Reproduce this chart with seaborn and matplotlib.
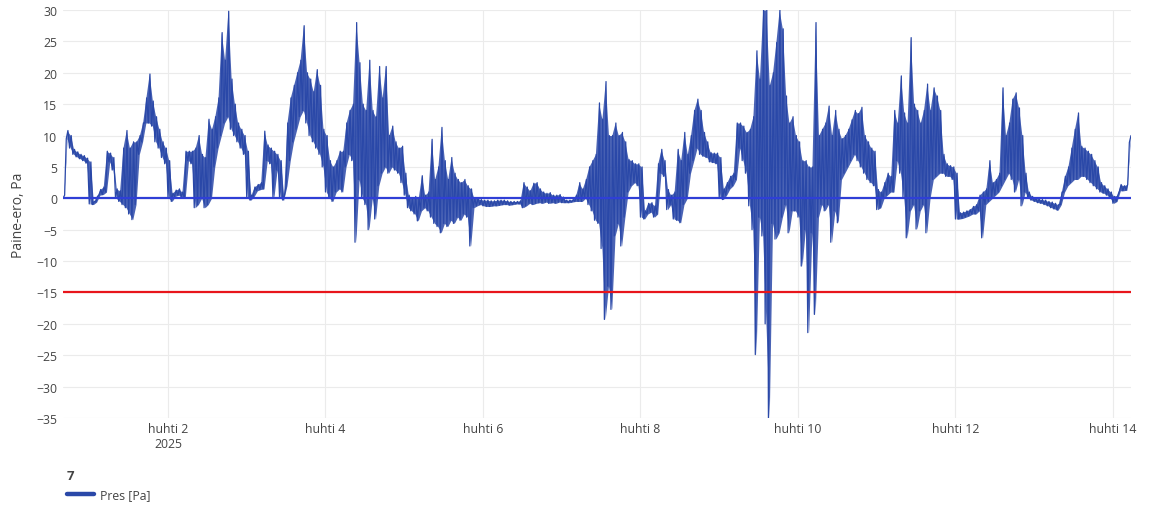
import numpy as np
import pandas as pd
import matplotlib
matplotlib.use("Agg")
import matplotlib.pyplot as plt
from matplotlib.lines import Line2D
import seaborn as sns

# ---------------- data ----------------
start_time = "2025-03-31 16:00"   # first sample
# hourly envelope of the noisy pressure trace: lower and upper value in each hour
pres_low = [
    0, 9.5, 8, 7, 6.6, 6.3, 6.0, 5.6, -0.9, -1.0, -0.6, 0.5,
    0.6, 1, 5.8, 4.5, 0, -0.5, -1, -1.5, -2.5, -3.4, -1, 7,
    9, 12, 12, 11.5, 9, 8, 6.5, 5.5, 0, -0.5, 0.3, 0.5,
    0.2, 0, 6, 5.5, -1.5, -1, 0, -1.5, -1, 0, 5, 8,
    10, 12, 13, 11, 10, 9, 8, 7, 0, -0.3, 0.3, 1.2,
    1.4, 1.5, 6, 5.5, 0, 4.5, 0, -0.3, 2, 6, 9, 11,
    13, 14, 12, 10, 9, 8, 7, 5, 1, 0, -0.5, 1,
    1.5, 1, 5, 7, 6, -7, 3, 0, -1, -5, 0, -3.3,
    2, 4, 5, 4, 5, 4.5, 4, 2.5, 0.5, -1.5, -2, -2.5,
    -3.6, -2, -1.5, -2, -3, -4, -4.5, -5.5, -4, -4.5, -3.5, -4,
    -3, -3.5, -2.5, -3, -7.6, -1.5, -1.2, -1.0, -1.2, -1.3, -1.3, -1.2,
    -1.2, -1.1, -1.0, -1.0, -1.1, -1.0, -0.9, -0.9, -1.5, -1.2, -0.8, -1.0,
    -0.8, -0.7, -0.8, -0.6, -0.8, -0.7, -0.8, -0.6, -0.7, -0.7, -0.7, -0.6,
    -0.5, -0.5, -0.5, 0, -1, -2, -3.5, -4, -8, -19.3, -14, -17.7,
    -6, -4, -7.6, -3, 1, 2, 2.5, 2, -3, -3.3, -2.5, -2.2,
    -3, -2.5, 4, 3.5, -1.8, -1, -3.3, -3.5, -3.9, -1, 0, 4,
    6, 8, 7, 6.7, 6.5, 5.8, 5.7, 5.5, 0, -0.2, 0.5, 1.5,
    2, 3, 8, 6, 4, -1.2, -5, -24.9, -3, -6, -20, -35,
    -4, -6.5, -5.5, -3, -1, -5.5, -2, -2, -3, -10.8, -5, -21.4,
    -5.5, -18.5, -3, -1, -2, -1, -7, -2, -3.9, 3, 4, 5,
    6, 7, 6, 5, 4, 3, 2.5, 2, -1.8, -1.5, 0, 0.5,
    1, 1, 6, 4, 0, -6.3, -2, -1, -4.9, -2, -1, -5.5,
    0, 3, 3.5, 4, 4, 3.5, 3.5, 3, -3.3, -3.3, -3.2, -3,
    -2.8, -2.5, -2.5, -2, -6.3, -1, -0.5, 0, 0.5, 1, 2, 3,
    4, 3, 1, 3, -1.2, 1, 0, -0.3, -0.5, -0.7, -0.8, -1.0,
    -1.2, -1.5, -1.7, -1.9, -1, 1, 2, 2.5, 3, 3, 3.5, 3.5,
    3, 2.5, 2, 1.5, 1, 0.8, 0.5, 0, -0.8, -0.5, 1.2, 1.2,
    1.3, 8.9,
]
pres_high = [
    0.5, 10.8, 10, 7.8, 7.4, 7.0, 6.8, 6.4, 5.8, -0.5, 0.3, 1.4,
    1.8, 7.5, 7.2, 6.5, 1.5, 1.2, 8, 10.8, 8, 9, 9, 10,
    12, 16, 19.8, 15.5, 13, 11, 9, 8, 6, 0.8, 1.3, 1.5,
    1.0, 7.5, 7.5, 7.5, 8, 10, 7, 6.5, 12.6, 11, 13, 16,
    26.4, 22, 29.8, 19, 15, 12, 11, 10, 7.5, 0.5, 1.8, 2.2,
    2.5, 10.7, 8.5, 8, 7.5, 7, 6, 0.5, 12, 16, 18, 20,
    22, 27.5, 20, 19, 17, 20.5, 18, 11, 10, 6, 5, 6,
    7.5, 7.5, 12, 14, 15, 28, 21.6, 15, 14, 22, 14, 13,
    21, 16, 21, 10, 11.5, 9, 8, 8.3, 4, 0.5, 0, 0.3,
    0, 3.6, 0.5, 1, 9.4, 3, 5, 11.3, 6, 3, 6.5, 4,
    3, 2.5, 3, 2, 1.5, 0, 0, -0.2, -0.3, -0.3, -0.4, -0.4,
    -0.3, -0.3, -0.3, -0.4, -0.5, -0.5, -0.5, -0.4, 2.5, 1.8, 1.2, 2.4,
    2.5, 1.5, 1.0, 0.8, 0.9, 0.5, 0.5, 0.6, 0.2, -0.3, -0.3, -0.2,
    0.5, 2.5, 1.5, 3, 5, 6, 7, 15.2, 12.6, 18.6, 10, 10,
    12, 10, 10.5, 9, 6.2, 6, 5.5, 5.5, 5, -2, -0.8, -0.7,
    -1.2, 5.5, 7.8, 6, 1.4, 0.5, 1, 7.8, 6, 10.5, 7, 10,
    14, 15.8, 14, 10.5, 9, 7.3, 7.2, 7.2, 6.5, 1.5, 2.5, 3.5,
    4, 12, 12, 11.5, 10.5, 11, 13, 23.5, 19, 30, 30, 18,
    20, 24.8, 30, 27, 16.3, 12, 13, 10, 9, 6, 6, 5,
    5, 28, 10, 11, 12, 14.7, 10, 14, 11, 9.5, 10, 11,
    12.5, 14, 13.5, 14.5, 10, 9, 8, 7.5, 1.4, 1, 2.5, 4,
    3.5, 14, 12, 19.5, 13.6, 12, 25.6, 15, 14, 12, 14, 18.2,
    14, 17.6, 16.3, 14, 7, 5.5, 5.2, 5, 4, -2.3, -2.2, -2,
    -1.8, -1.3, -1, 0.5, 1, 1.5, 6, 2.5, 3, 4, 17.6, 10,
    12, 15.8, 16.8, 14.4, 10, 4, 1, 0.3, 0, -0.1, -0.2, -0.3,
    -0.5, -0.6, -0.8, -1.0, 1, 3.5, 5, 8, 11, 13.6, 8.3, 8,
    7.5, 7, 6, 5, 2.5, 2, 1.5, 1, 0.3, 0.5, 2.2, 2,
    2.2, 10,
]
zero_level = 0
limit_level = -15
tick_dates = ["2025-04-02", "2025-04-04", "2025-04-06", "2025-04-08",
              "2025-04-10", "2025-04-12", "2025-04-14"]
tick_labels = ["huhti 2\n2025", "huhti 4", "huhti 6", "huhti 8",
               "huhti 10", "huhti 12", "huhti 14"]
y_ticks = list(range(-35, 31, 5))
series_name = "Pres [Pa]"
legend_title = "7"
y_title = "Paine-ero, Pa"

# ---------------- tables ----------------
hours = np.arange(len(pres_low))
t0 = pd.Timestamp(start_time)
# zig-zag trace: low and high alternate within each hour
t_zig = np.column_stack([hours, hours + 0.5]).ravel()
df = pd.DataFrame({
    "time": t0 + pd.to_timedelta(t_zig, unit="h"),
    "pres": np.column_stack([pres_low, pres_high]).ravel(),
})
# envelope table: both readings per hour at the same timestamp
df_env = pd.DataFrame({
    "time": np.concatenate([t0 + pd.to_timedelta(hours + 0.25, unit="h")] * 2),
    "pres": np.concatenate([pres_low, pres_high]),
})

# ---------------- plot ----------------
sns.set_theme(style="white")
plt.rcParams["font.family"] = ["Open Sans", "DejaVu Sans"]
plt.rcParams["axes.unicode_minus"] = True

W, H = 1157, 506
fig = plt.figure(figsize=(W / 100, H / 100), dpi=100)
ax = fig.add_axes([63 / W, 1 - 419 / H, (1131 - 63) / W, (419 - 11) / H])

trace_color = "#2a48a8"
# dense noise band (min..max per hour)
sns.lineplot(data=df_env, x="time", y="pres", estimator="mean",
             errorbar=lambda v: (v.min(), v.max()), linewidth=0,
             color=trace_color, err_kws={"alpha": 0.85, "linewidth": 0},
             ax=ax, zorder=2)
# individual excursions
sns.lineplot(data=df, x="time", y="pres", sort=False, estimator=None,
             color=trace_color, linewidth=0.9, ax=ax, zorder=3)

ax.axhline(zero_level, color="#2f3fd6", linewidth=1.6, zorder=4)
ax.axhline(limit_level, color="#e8151b", linewidth=1.6, zorder=4)

ax.set_ylim(-35, 30)
ax.set_xlim(df["time"].min(), df["time"].max())
ax.set_yticks(y_ticks)
ax.set_xticks(pd.to_datetime(tick_dates))
ax.set_xticklabels(tick_labels)

ax.grid(True, color="#ebebeb", linewidth=0.8, zorder=0)
ax.set_axisbelow(True)
for s in ax.spines.values():
    s.set_visible(False)
ax.tick_params(axis="both", length=0, labelsize=8.8, colors="#444444")
ax.tick_params(axis="y", pad=4)
ax.tick_params(axis="x", pad=3)

ax.set_xlabel("")
ax.set_ylabel(y_title, fontsize=10, color="#444444")
ax.yaxis.set_label_coords(-0.035, 0.5)

handle = Line2D([0], [0], color=trace_color, linewidth=3.2)
leg = fig.legend([handle], [series_name], title=legend_title,
                 loc="upper left", bbox_to_anchor=(62 / W, 1 - 465 / H),
                 frameon=False, alignment="left", fontsize=8.8,
                 handlelength=2.2, handletextpad=0.5, borderaxespad=0)
leg.get_title().set_fontweight("bold")
leg.get_title().set_fontsize(9.5)
leg.get_title().set_color("#444444")
for txt in leg.get_texts():
    txt.set_color("#444444")

fig.savefig("out.png", dpi=100)
